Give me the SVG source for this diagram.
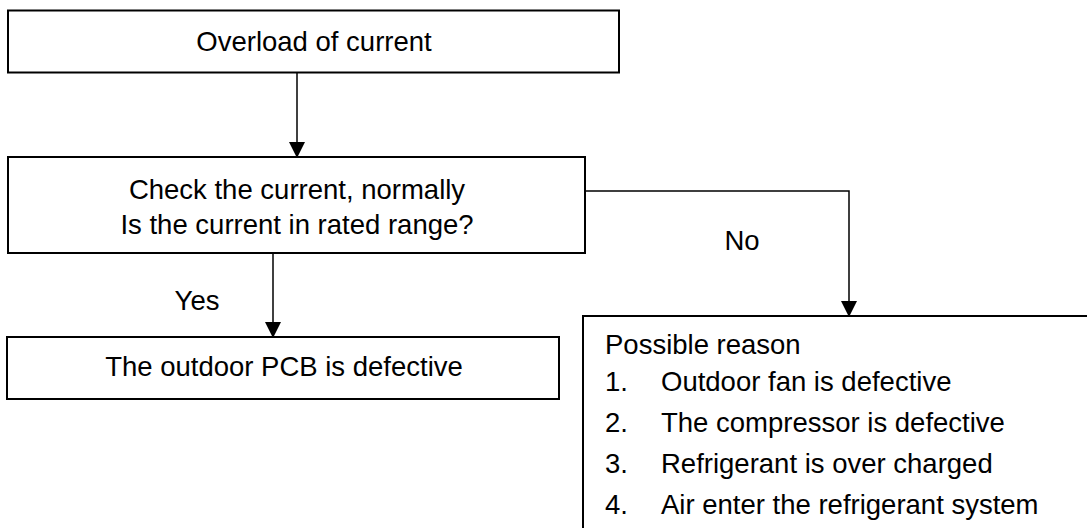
<svg xmlns="http://www.w3.org/2000/svg" width="1087" height="528" viewBox="0 0 1087 528">
<defs>
<style>
.box{fill:#fff;stroke:#000;stroke-width:2}
.t{font-family:"Liberation Sans",Arial,sans-serif;font-size:27.5px;fill:#000}
.c{text-anchor:middle}
.ln{fill:none;stroke:#000;stroke-width:1.5}
</style>
<marker id="ah" markerWidth="16" markerHeight="16" refX="15" refY="8" orient="auto" markerUnits="userSpaceOnUse">
<path d="M0,0 L16,8 L0,16 Z" fill="#000"/>
</marker>
</defs>
<rect width="1087" height="528" fill="#fff"/>
<g id="connectors">
<line class="ln" x1="297" y1="73" x2="297" y2="157" marker-end="url(#ah)"/>
<line class="ln" x1="273" y1="253" x2="273" y2="337" marker-end="url(#ah)"/>
<polyline class="ln" points="585,191 849,191 849,316" marker-end="url(#ah)"/>
<text class="t c" x="197" y="310">Yes</text>
<text class="t c" x="742" y="250">No</text>
</g>
<g id="n1">
<rect class="box" x="8" y="10.5" width="611" height="62"/>
<text class="t c" x="314" y="51">Overload of current</text>
</g>
<g id="n2">
<rect class="box" x="8" y="157" width="577" height="96"/>
<text class="t c" x="297" y="199">Check the current, normally</text>
<text class="t c" x="297" y="234">Is the current in rated range?</text>
</g>
<g id="n3">
<rect class="box" x="7" y="337" width="552" height="62"/>
<text class="t c" x="284" y="376">The outdoor PCB is defective</text>
</g>
<g id="n4">
<rect class="box" x="583" y="316" width="520" height="230"/>
<text class="t" x="605" y="354">Possible reason</text>
<text class="t" x="605" y="391">1.</text>
<text class="t" x="661" y="391">Outdoor fan is defective</text>
<text class="t" x="605" y="432">2.</text>
<text class="t" x="661" y="432">The compressor is defective</text>
<text class="t" x="605" y="473">3.</text>
<text class="t" x="661" y="473">Refrigerant is over charged</text>
<text class="t" x="605" y="514">4.</text>
<text class="t" x="661" y="514">Air enter the refrigerant system</text>
</g>
</svg>
